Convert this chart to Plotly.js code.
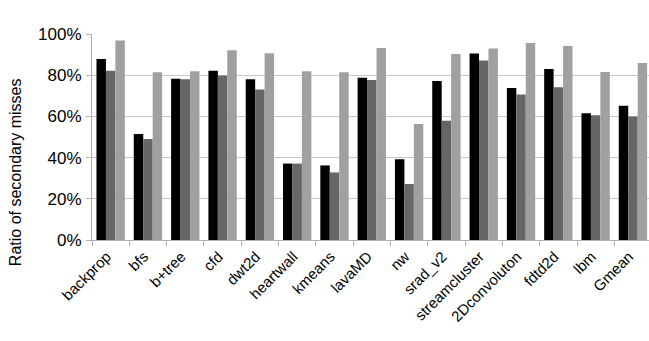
<!DOCTYPE html>
<html><head><meta charset="utf-8">
<script src="https://cdn.plot.ly/plotly-3.0.1.min.js"></script>
<style>html,body{margin:0;padding:0;background:#fff;}#chart{width:649px;height:341px;}</style>
</head><body><div id="chart"></div>
<script>
const categories = ["backprop","bfs","b+tree","cfd","dwt2d","heartwall","kmeans","lavaMD","nw","srad_v2","streamcluster","2Dconvoluton","fdtd2d","lbm","Gmean"];
const ctr_secMiss = [0.879,0.515,0.783,0.822,0.780,0.371,0.362,0.788,0.392,0.772,0.905,0.738,0.830,0.615,0.652];
const mac_secMiss = [0.822,0.490,0.780,0.798,0.730,0.371,0.328,0.777,0.272,0.579,0.871,0.706,0.741,0.605,0.599];
const bmt_secMiss = [0.969,0.814,0.819,0.921,0.906,0.819,0.814,0.932,0.563,0.903,0.930,0.956,0.942,0.816,0.859];
const yTicks = [0,0.2,0.4,0.6,0.8,1.0];
const yTickText = ["0%","20%","40%","60%","80%","100%"];
const yTitle = "Ratio of secondary misses";

const font = "Liberation Sans, Arial, sans-serif";
const traces = [
  {name:"ctr_secMiss", y:ctr_secMiss, color:"#000000"},
  {name:"mac_secMiss", y:mac_secMiss, color:"#666666"},
  {name:"bmt_secMiss", y:bmt_secMiss, color:"#a0a0a0"}
].map(s => ({type:"bar", name:s.name, x:categories, y:s.y, marker:{color:s.color, line:{width:0}}}));

const layout = {
  width:649, height:341,
  margin:{l:92, r:0, t:34, b:101},
  paper_bgcolor:"#fff", plot_bgcolor:"#fff",
  barmode:"group", bargap:0.24, bargroupgap:0,
  font:{family:font, size:15, color:"#000"},
  showlegend:true,
  legend:{orientation:"h", xref:"container", yref:"container", x:0.487, xanchor:"center", y:1.024, yanchor:"top",
          font:{family:font, size:16, color:"#000"}, itemwidth:30, tracegroupgap:0},
  xaxis:{type:"category", range:[-0.5,14.43], tickangle:-45, ticks:"outside", tickson:"boundaries", ticklen:5,
         tickcolor:"#b0b0b0", showline:true, linecolor:"#b0b0b0", linewidth:1, showgrid:false,
         ticklabelstandoff:1, ticklabelshift:-4,
         tickfont:{family:font, size:15, color:"#000"}},
  yaxis:{range:[0,1.0], tickvals:yTicks, ticktext:yTickText, ticks:"outside", ticklen:5, tickcolor:"#b0b0b0",
         showline:true, linecolor:"#b0b0b0", showgrid:true, gridcolor:"#c8c8c8", gridwidth:1, zeroline:false,
         ticklabelstandoff:1,
         tickfont:{family:font, size:17, color:"#000"}},
  annotations:[{text:yTitle, textangle:-90, xref:"paper", yref:"paper", x:-0.138, y:0.33,
                xanchor:"center", yanchor:"middle", showarrow:false,
                font:{family:font, size:16, color:"#000"}}]
};
Plotly.newPlot("chart", traces, layout, {displayModeBar:false, staticPlot:true});
</script></body></html>
